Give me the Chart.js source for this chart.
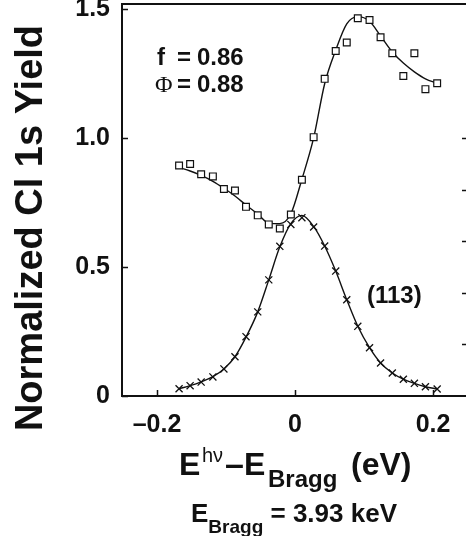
<!DOCTYPE html>
<html>
<head>
<meta charset="utf-8">
<script src="https://cdn.jsdelivr.net/npm/chart.js@4.4.1/dist/chart.umd.min.js"></script>
<style>
    html, body { margin: 0; padding: 0; background: #fff; }
</style>
</head>
<body>
<canvas id="yieldChart" width="466" height="536"></canvas>
<script>
// photon energy relative to Bragg (eV)
const energy = [-0.168, -0.152, -0.136, -0.119, -0.103, -0.087, -0.071, -0.054, -0.038, -0.022, -0.006, 0.010,
                0.027, 0.043, 0.059, 0.075, 0.091, 0.108, 0.124, 0.141, 0.157, 0.173, 0.189, 0.206];

// Cl 1s yield (squares) and its fit
const clYield = [0.893, 0.899, 0.859, 0.851, 0.802, 0.796, 0.733, 0.700, 0.665, 0.649, 0.703, 0.838,
                 1.003, 1.229, 1.337, 1.370, 1.464, 1.457, 1.390, 1.328, 1.240, 1.328, 1.189, 1.212];
const clFit = [0.885, 0.872, 0.855, 0.832, 0.805, 0.775, 0.740, 0.705, 0.670, 0.668, 0.706, 0.840,
               1.000, 1.210, 1.340, 1.442, 1.470, 1.452, 1.395, 1.333, 1.290, 1.256, 1.229, 1.212];

// reflectivity (crosses) and its fit
const reflectivity = [0.028, 0.040, 0.054, 0.074, 0.105, 0.152, 0.230, 0.326, 0.450, 0.580, 0.665, 0.691,
                      0.655, 0.581, 0.484, 0.373, 0.270, 0.187, 0.128, 0.089, 0.065, 0.049, 0.036, 0.027];
const reflFit = [0.028, 0.040, 0.055, 0.075, 0.105, 0.152, 0.228, 0.326, 0.450, 0.578, 0.668, 0.700,
                 0.657, 0.581, 0.484, 0.373, 0.270, 0.187, 0.128, 0.089, 0.065, 0.049, 0.036, 0.027];

const xTicks = [-0.2, 0, 0.2];
const xTickLabels = ['\u20130.2', '0', '0.2'];
const yTicks = [0, 0.5, 1.0, 1.5];
const yTickLabels = ['0', '0.5', '1.0', '1.5'];
const rightTicks = [0.2, 0.4, 0.6, 0.8, 1.0];

const ink = '#111';
const sans = "'Liberation Sans', Arial, sans-serif";

const toPoints = vals => vals.map((v, i) => ({ x: energy[i], y: v }));

// draws a run of text pieces (font, baseline shift) centred on cx
function drawRun(ctx, parts, cx, baseY) {
    let total = 0;
    parts.forEach(p => { ctx.font = p.font; total += ctx.measureText(p.text).width; });
    let x = cx - total / 2;
    parts.forEach(p => {
        ctx.font = p.font;
        ctx.fillText(p.text, x, baseY + (p.dy || 0));
        x += ctx.measureText(p.text).width;
    });
}

const decorations = {
    id: 'decorations',
    afterDraw(chart) {
        const { ctx, chartArea: area, scales: { x, y } } = chart;
        ctx.save();
        ctx.strokeStyle = ink;
        ctx.fillStyle = ink;

        // top frame line
        ctx.lineWidth = 2;
        ctx.beginPath();
        ctx.moveTo(area.left, area.top);
        ctx.lineTo(area.right, area.top);
        ctx.stroke();

        // inward tick marks
        ctx.lineWidth = 1.5;
        ctx.beginPath();
        xTicks.forEach(v => {
            const px = Math.round(x.getPixelForValue(v)) + 0.5;
            ctx.moveTo(px, area.bottom);
            ctx.lineTo(px, area.bottom - 6);
        });
        yTicks.forEach(v => {
            const py = Math.round(y.getPixelForValue(v)) + 0.5;
            ctx.moveTo(area.left, py);
            ctx.lineTo(area.left + 6, py);
        });
        rightTicks.forEach(v => {
            const py = Math.round(y.getPixelForValue(v)) + 0.5;
            ctx.moveTo(area.right, py);
            ctx.lineTo(area.right - 4, py);
        });
        ctx.stroke();

        // annotations
        ctx.textAlign = 'left';
        ctx.textBaseline = 'alphabetic';
        ctx.font = 'bold 24px ' + sans;
        ctx.fillText('f', 157, 65);
        ctx.fillText('=', 177, 65);
        ctx.fillText('0.86', 197, 65);
        ctx.font = "24px 'Liberation Serif', serif";
        ctx.fillText('\u03A6', 155, 92);
        ctx.font = 'bold 24px ' + sans;
        ctx.fillText('=', 177, 92);
        ctx.fillText('0.88', 197, 92);
        ctx.fillText('(113)', 367, 303);

        // x axis title, pieces placed one by one
        ctx.font = 'bold 32px ' + sans;
        ctx.fillText('E', 179, 475);
        ctx.font = '20px ' + sans;
        ctx.fillText('h\u03BD', 202, 461.5);
        ctx.font = 'bold 34px ' + sans;
        ctx.fillText('\u2013', 225, 475);
        ctx.font = 'bold 32px ' + sans;
        ctx.fillText('E', 244, 475);
        ctx.font = 'bold 24px ' + sans;
        ctx.fillText('Bragg', 268, 486.5);
        ctx.font = 'bold 32px ' + sans;
        ctx.fillText('(eV)', 351, 475);

        drawRun(ctx, [
            { text: 'E', font: 'bold 26px ' + sans },
            { text: 'Bragg', font: 'bold 19px ' + sans, dy: 11.5 },
            { text: ' = 3.93 keV', font: 'bold 26px ' + sans }
        ], 294, 521.5);

        // y axis title
        ctx.translate(42, 228);
        ctx.rotate(-Math.PI / 2);
        ctx.textAlign = 'center';
        ctx.font = 'bold 38px ' + sans;
        ctx.fillText('Normalized Cl 1s Yield', 0, 0);
        ctx.restore();
    }
};

document.addEventListener('DOMContentLoaded', () => {
    const ctx = document.getElementById('yieldChart').getContext('2d');
    const yieldChart = new Chart(ctx, {
        type: 'scatter',
        data: {
            datasets: [
                {
                    label: 'Cl 1s yield',
                    data: toPoints(clYield),
                    pointStyle: 'rect',
                    pointRadius: 4.8,
                    backgroundColor: '#fff',
                    borderColor: ink,
                    borderWidth: 1.2,
                    order: 0
                },
                {
                    label: 'Reflectivity',
                    data: toPoints(reflectivity),
                    pointStyle: 'crossRot',
                    pointRadius: 5,
                    borderColor: ink,
                    borderWidth: 1.3,
                    order: 1
                },
                {
                    label: 'Yield fit',
                    data: toPoints(clFit),
                    showLine: true,
                    pointRadius: 0,
                    borderColor: ink,
                    borderWidth: 1.4,
                    cubicInterpolationMode: 'monotone',
                    order: 2
                },
                {
                    label: 'Reflectivity fit',
                    data: toPoints(reflFit),
                    showLine: true,
                    pointRadius: 0,
                    borderColor: ink,
                    borderWidth: 1.4,
                    cubicInterpolationMode: 'monotone',
                    order: 3
                }
            ]
        },
        options: {
            responsive: false,
            animation: false,
            layout: { autoPadding: false, padding: { top: 4, right: 0, bottom: 0, left: 0 } },
            plugins: {
                legend: { display: false },
                tooltip: { enabled: false }
            },
            scales: {
                x: {
                    type: 'linear',
                    min: -0.2507,
                    max: 0.2478,
                    afterBuildTicks: scale => { scale.ticks = xTicks.map(v => ({ value: v })); },
                    afterFit: scale => { scale.height = 140; scale.paddingLeft = 0; scale.paddingRight = 0; },
                    ticks: {
                        callback: (value, index) => xTickLabels[index],
                        font: { family: sans, size: 25, weight: 'bold' },
                        color: ink,
                        padding: 14,
                        maxRotation: 0,
                        autoSkip: false
                    },
                    grid: { display: false, drawTicks: false },
                    border: { display: true, color: ink, width: 2 }
                },
                y: {
                    type: 'linear',
                    min: 0,
                    max: 1.519,
                    afterBuildTicks: scale => { scale.ticks = yTicks.map(v => ({ value: v })); },
                    afterFit: scale => { scale.width = 122; scale.paddingTop = 0; scale.paddingBottom = 0; },
                    ticks: {
                        callback: (value, index) => yTickLabels[index],
                        font: { family: sans, size: 25, weight: 'bold' },
                        color: ink,
                        padding: 12,
                        autoSkip: false
                    },
                    grid: { display: false, drawTicks: false },
                    border: { display: true, color: ink, width: 2 }
                }
            }
        },
        plugins: [decorations]
    });
});
</script>
</body>
</html>
